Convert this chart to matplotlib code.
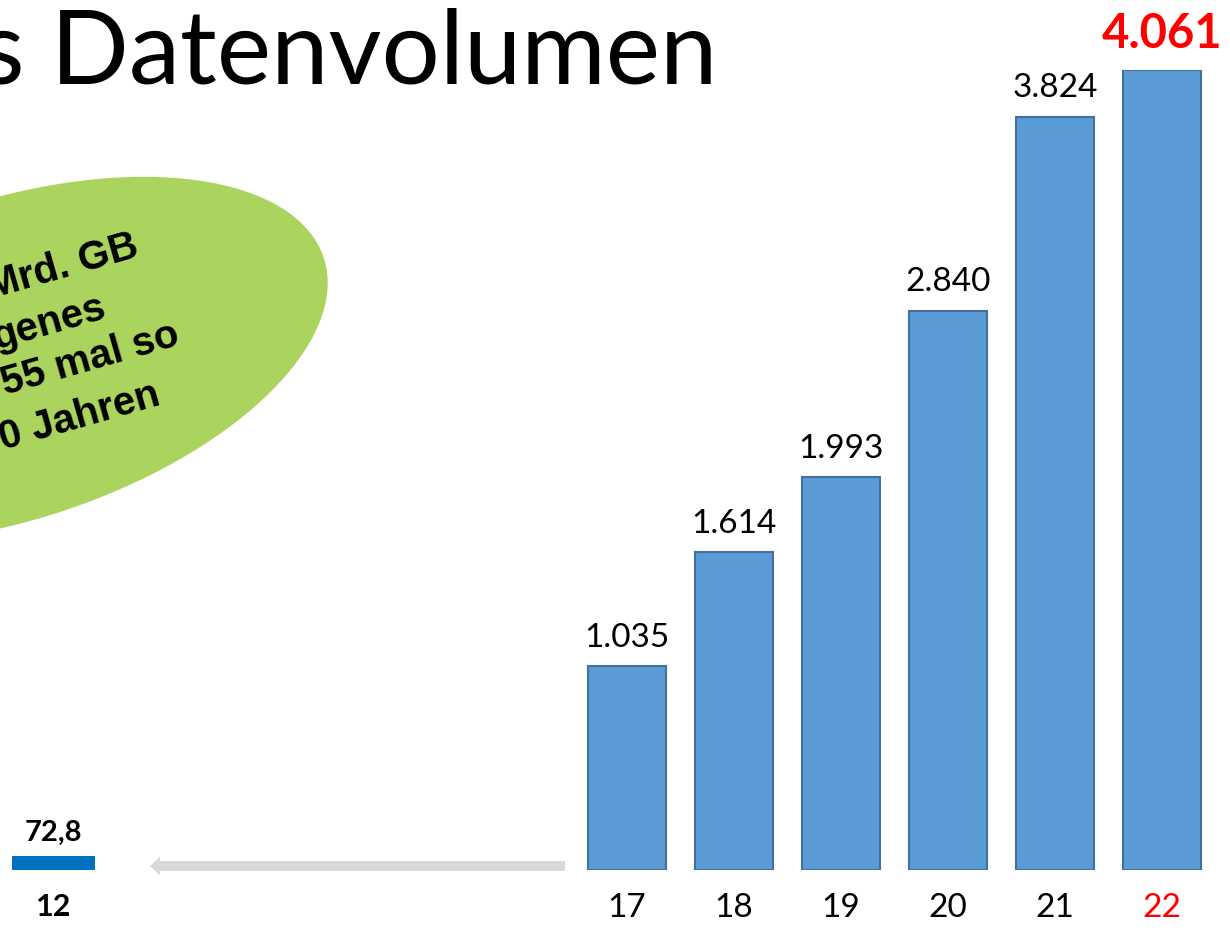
import matplotlib
matplotlib.use('Agg')
import matplotlib.pyplot as plt
from matplotlib.patches import Ellipse, FancyArrow

# data (Mrd. GB per year)
years = ['17', '18', '19', '20', '21', '22']
volumes = [1035, 1614, 1993, 2840, 3824, 4061]
volume_labels = ['1.035', '1.614', '1.993', '2.840', '3.824', '4.061']
start_year = '12'
start_volume = 72.8
start_label = '72,8'

title = 's Datenvolumen'
bubble_lines = ['Mrd. GB', 'genes', '55 mal so', '0 Jahren']

BAR_BLUE = '#5b9bd5'
EDGE_BLUE = '#41719c'
RED = '#ff0000'

fig = plt.figure(figsize=(12.3, 9.3), dpi=100)

# background layer in pixel coords: title, green bubble, arrow
bg = fig.add_axes([0, 0, 1, 1])
bg.set_xlim(0, 1230)
bg.set_ylim(930, 0)
bg.axis('off')

bg.text(717, 84, title, ha='right', va='baseline', fontsize=74, family='Lato')

bg.add_patch(Ellipse((10, 360), 660, 320, angle=-18, color='#abd45e', lw=0))
bubble_pos = [(140, 256), (108, 317), (181, 344), (162, 404)]
for (bx, by), line in zip(bubble_pos, bubble_lines):
    bg.text(bx, by, line, rotation=16, rotation_mode='anchor', ha='right',
            va='baseline', fontsize=29, fontweight='bold', family='Liberation Sans')

bg.add_patch(FancyArrow(565, 866, -415, 0, width=10, head_width=19, head_length=10,
                        length_includes_head=True, color='#d9d9d9', lw=0))

# bar layer
ax = fig.add_axes([0, 60 / 930, 1, 800 / 930])
ax.patch.set_alpha(0)
ax.set_xlim(-627 / 107, 603 / 107)
ax.set_ylim(0, max(volumes))
ax.axis('off')

x = list(range(len(years)))
ax.bar(x, volumes, width=0.73, color=BAR_BLUE, edgecolor=EDGE_BLUE, linewidth=1.5)
start_x = -5.36
ax.bar(start_x, start_volume, width=0.78, color='#0070c0')

for xi, v, lab in zip(x, volumes, volume_labels):
    if lab == volume_labels[-1]:
        ax.annotate(lab, (xi, v), xytext=(0, 16), textcoords='offset points', ha='center',
                    va='baseline', fontsize=34, fontweight='bold', color=RED, family='Lato')
    else:
        ax.annotate(lab, (xi, v), xytext=(0, 14), textcoords='offset points', ha='center',
                    va='baseline', fontsize=24, family='Lato')

for xi, yr in zip(x, years):
    ax.annotate(yr, (xi, 0), xytext=(0, -34), textcoords='offset points', ha='center',
                va='baseline', fontsize=24, family='Lato',
                color=RED if yr == years[-1] else 'black')

ax.annotate(start_label, (start_x, start_volume), xytext=(0, 11), textcoords='offset points',
            ha='center', va='baseline', fontsize=21, fontweight='bold', family='Lato')
ax.annotate(start_year, (start_x, 0), xytext=(0, -33), textcoords='offset points',
            ha='center', va='baseline', fontsize=22, fontweight='bold', family='Lato')

fig.savefig('out.png', dpi=100)
